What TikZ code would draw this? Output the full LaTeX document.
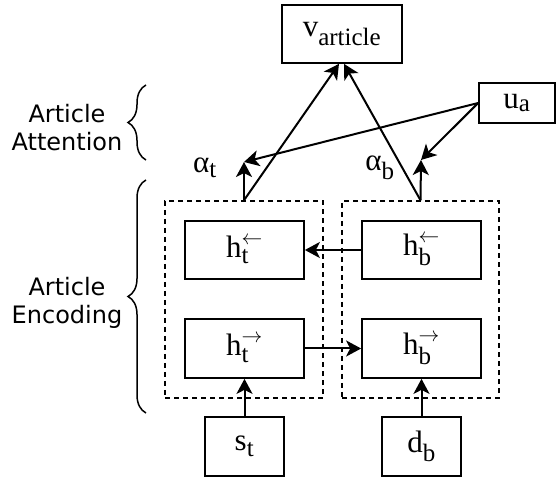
\documentclass[tikz,border=0pt]{standalone}
\usepackage{fontspec}
\usepackage{tikz}
\setmainfont{Liberation Serif}
\newfontfamily\sidefont{DejaVu Sans}
\DeclareMathSizes{31}{31}{25}{20}
\usetikzlibrary{arrows.meta,decorations.pathreplacing}
\tikzset{
  font={\fontsize{31}{33}\selectfont},
  unit/.style={draw, line width=1.7pt, inner sep=0pt},
  group/.style={draw, line width=1.5pt, dash pattern=on 5pt off 4pt, inner sep=0pt},
  link/.style={line width=2pt, -{Stealth[length=15pt,width=16pt,inset=4pt]}},
  side/.style={font={\sidefont\fontsize{24pt}{28pt}\selectfont}, align=center},
  curly/.style={decorate, line width=1.5pt, decoration={brace, amplitude=18pt}}}
\newcommand\hstate[2]{$\mathrm{h}_{\mathrm{#1}}^{\raisebox{4pt}{$\scriptscriptstyle#2$}}$}

\begin{document}
\begin{tikzpicture}[x=1pt,y=-1pt]
\tikzstyle{every node}+=[inner sep=0pt]
\useasboundingbox (0,0) rectangle (557,478);
% top
\node[unit, minimum width=120pt, minimum height=58pt] (vart) at (342,34) {v\textsubscript{article}};
\node[unit, minimum width=76pt, minimum height=40pt] (ua) at (517,103) {u\textsubscript{a}};
% encoder groups
\node[group, minimum width=158pt, minimum height=197pt] (tgroup) at (244,299.5) {};
\node[group, minimum width=157pt, minimum height=197pt] (bgroup) at (420.5,299.5) {};
\node[unit, minimum width=119pt, minimum height=58pt] (htl) at (244.5,250) {\hstate{t}{\leftarrow}};
\node[unit, minimum width=119pt, minimum height=59pt] (htr) at (244.5,348.5) {\hstate{t}{\rightarrow}};
\node[unit, minimum width=119pt, minimum height=58pt] (hbl) at (421.5,250) {\hstate{b}{\leftarrow}};
\node[unit, minimum width=119pt, minimum height=59pt] (hbr) at (421.5,348.5) {\hstate{b}{\rightarrow}};
% inputs
\node[unit, minimum width=79pt, minimum height=59pt] (st) at (244.5,446.5) {s\textsubscript{t}};
\node[unit, minimum width=79pt, minimum height=59pt] (db) at (421.5,446.5) {d\textsubscript{b}};
% attention weights
\coordinate (tatt) at (244,162);
\coordinate (batt) at (421,160);
\node (alphat) at (205,168) {α\textsubscript{t}};
\node (alphab) at (380,168) {α\textsubscript{b}};
% side labels
\node[side] (attlab) at (67,128) {Article\\Attention};
\node[side] (enclab) at (67,303) {Article\\Encoding};
\draw[curly] (146,160) -- (146,85);
\draw[curly] (146,413) -- (146,180);
% connectors
\draw[link] (st) -- (htr);
\draw[link] (db) -- (hbr);
\draw[link] (htr) -- (hbr);
\draw[link] (hbl) -- (htl);
\draw[link] (tgroup.north) -- (tatt);
\draw[link] (bgroup.north) -- (batt);
\draw[link] (tgroup.north) -- ([xshift=-3pt]vart.south);
\draw[link] (bgroup.north) -- ([xshift=2pt]vart.south);
\draw[link] (ua.west) -- (tatt);
\draw[link] (ua.west) -- (batt);
\end{tikzpicture}
\end{document}
